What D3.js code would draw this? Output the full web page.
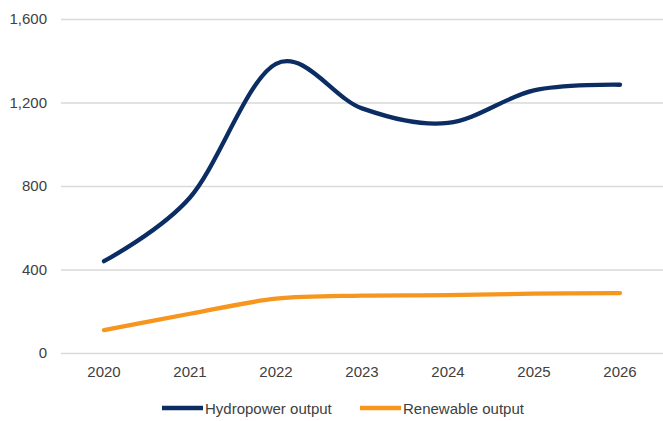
<!DOCTYPE html>
<html>
<head>
<meta charset="utf-8">
<script src="https://cdn.jsdelivr.net/npm/d3@7"></script>
<style>
  body { margin: 0; background: #fff; }
  text { font-family: "Liberation Sans", Arial, sans-serif; }
</style>
</head>
<body>
<div id="chart"></div>
<script>
// chart data
const years = ["2020", "2021", "2022", "2023", "2024", "2025", "2026"];
const hydroValues = [440, 745, 1385, 1172, 1102, 1258, 1285];
const renewValues = [110, 188, 260, 275, 277, 284, 287];
const yTicks = [0, 400, 800, 1200, 1600];
const seriesNames = ["Hydropower output", "Renewable output"];
const seriesColors = ["#0b2d63", "#f7961e"];

const width = 663, height = 421;
const margin = {top: 19, right: 0, bottom: 68, left: 61};
const fontSize = 15;

const svg = d3.select("#chart").append("svg")
    .attr("width", width)
    .attr("height", height);

const x = d3.scaleBand()
    .domain(years)
    .range([margin.left, width - margin.right]);

const y = d3.scaleLinear()
    .domain([0, 1600])
    .range([height - margin.bottom, margin.top]);

// gridlines + y labels
svg.append("g")
    .attr("transform", `translate(${margin.left},0)`)
    .call(d3.axisLeft(y)
        .tickValues(yTicks)
        .tickSize(-(width - margin.left - margin.right))
        .tickPadding(14)
        .tickFormat(d3.format(",")))
    .call(g => g.select(".domain").remove())
    .call(g => g.selectAll(".tick line").attr("stroke", "#d9d9d9").attr("stroke-width", 1.3))
    .call(g => g.selectAll(".tick text").attr("fill", "#404040").attr("font-size", fontSize));

// x labels
svg.append("g")
    .attr("transform", `translate(0,${height - margin.bottom})`)
    .call(d3.axisBottom(x).tickSize(0).tickPadding(13))
    .call(g => g.select(".domain").remove())
    .call(g => g.selectAll(".tick text").attr("fill", "#404040").attr("font-size", fontSize));

// smoothed lines (excel-like)
const line = d3.line()
    .x((d, i) => x(years[i]) + x.bandwidth() / 2)
    .y(d => y(d))
    .curve(d3.curveCardinal.tension(0));

[renewValues, hydroValues].forEach((vals, k) => {
    svg.append("path")
        .attr("fill", "none")
        .attr("stroke", seriesColors[1 - k])
        .attr("stroke-width", 4.3)
        .attr("stroke-linecap", "round")
        .attr("d", line(vals));
});

// legend
const legendX = [162, 360];
const legend = svg.append("g").attr("transform", "translate(0,408)");
seriesNames.forEach((name, i) => {
    legend.append("line")
        .attr("x1", legendX[i]).attr("x2", legendX[i] + 41)
        .attr("y1", 0).attr("y2", 0)
        .attr("stroke", seriesColors[i])
        .attr("stroke-width", 4.3);
    legend.append("text")
        .attr("x", legendX[i] + 43)
        .attr("y", 5.5)
        .attr("fill", "#404040")
        .attr("font-size", fontSize)
        .text(name);
});
</script>
</body>
</html>
